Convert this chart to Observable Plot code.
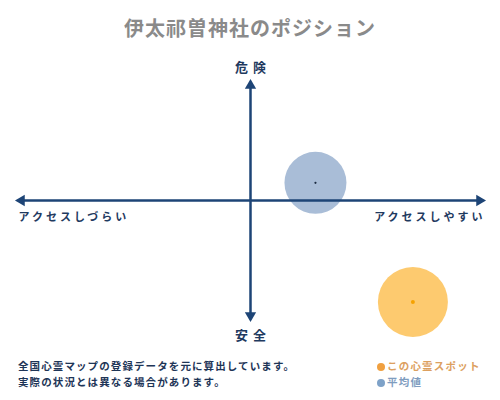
<!DOCTYPE html>
<html>
<head>
<meta charset="utf-8">
<script src="https://cdn.jsdelivr.net/npm/d3@7"></script>
<script src="https://cdn.jsdelivr.net/npm/@observablehq/plot@0.6"></script>
<style>
  html, body { margin: 0; padding: 0; background: #fff; }
  body { width: 500px; height: 400px; font-family: "Noto Sans CJK JP", sans-serif; position: relative; overflow: hidden; }
  #title { height: 50px; line-height: 56px; text-align: center; font-size: 20px; font-weight: bold; color: #8a8a8a; letter-spacing: 1px; }
  #chart svg { display: block; }
  g.side text { letter-spacing: 3px; }
  g.pole text { letter-spacing: 5px; }
  #caption { position: absolute; left: 18px; top: 358px; font-size: 10.5px; line-height: 16px; font-weight: bold; color: #1e3557; letter-spacing: 1.1px; }
  #legend { position: absolute; left: 377px; top: 358px; font-size: 10.5px; line-height: 16px; font-weight: bold; letter-spacing: 1.2px; }
  #legend .sw { display: inline-block; width: 8px; height: 8px; border-radius: 50%; margin-right: 2px; vertical-align: -0.5px; }
</style>
</head>
<body>
<div id="title"></div>
<div id="chart"></div>
<div id="caption"></div>
<div id="legend"></div>
<script>
const titleText = "伊太祁曽神社のポジション";
const categories = ["この心霊スポット", "平均値"];
const xValues = [7.0, 2.8];
const yValues = [-8.6, 1.5];
const topLabel = "危険";
const bottomLabel = "安全";
const leftLabel = "アクセスしづらい";
const rightLabel = "アクセスしやすい";
const captionLines = ["全国心霊マップの登録データを元に算出しています。", "実際の状況とは異なる場合があります。"];
const axisExtent = [-10, 10];

const points = categories.map((name, i) => ({name, x: xValues[i], y: yValues[i]}));
const spot = points.filter(d => d.name === categories[0]);
const avg = points.filter(d => d.name === categories[1]);

const navy = "#1d4476";
const textNavy = "#1f3a5f";

document.getElementById("title").textContent = titleText;

const plot = Plot.plot({
  width: 500,
  height: 300,
  marginLeft: 18,
  marginRight: 18,
  marginTop: 32,
  marginBottom: 32,
  x: {domain: axisExtent, axis: null},
  y: {domain: axisExtent, axis: null},
  style: {fontFamily: "'Noto Sans CJK JP', sans-serif", background: "white", overflow: "visible"},
  marks: [
    Plot.dot(avg, {x: "x", y: "y", r: 31, fill: "#a9bdd7", stroke: "none"}),
    Plot.dot(spot, {x: "x", y: "y", r: 35, fill: "#fdca6f", stroke: "none"}),
    Plot.ruleY([0], {x1: axisExtent[0], x2: axisExtent[1], stroke: navy, strokeWidth: 2.5}),
    Plot.ruleX([0], {y1: axisExtent[0], y2: axisExtent[1], stroke: navy, strokeWidth: 2.5}),
    Plot.dot([axisExtent[1]], {x: d => d, y: 0, symbol: "triangle", rotate: 90, r: 4.2, dx: -3, fill: navy, stroke: "none"}),
    Plot.dot([axisExtent[0]], {x: d => d, y: 0, symbol: "triangle", rotate: -90, r: 4.2, dx: 3, fill: navy, stroke: "none"}),
    Plot.dot([axisExtent[1]], {x: 0, y: d => d, symbol: "triangle", rotate: 0, r: 4.2, dy: 3, fill: navy, stroke: "none"}),
    Plot.dot([axisExtent[0]], {x: 0, y: d => d, symbol: "triangle", rotate: 180, r: 4.2, dy: -3, fill: navy, stroke: "none"}),
    Plot.dot(avg, {x: "x", y: "y", r: 1.1, fill: "#1a2a40", stroke: "none"}),
    Plot.dot(spot, {x: "x", y: "y", r: 2, fill: "#f5a200", stroke: "none"}),
    Plot.text([topLabel], {x: 0, y: axisExtent[1], dy: -15, dx: 2.5, text: d => d, fontSize: 13, fontWeight: "bold", fill: textNavy, className: "pole"}),
    Plot.text([bottomLabel], {x: 0, y: axisExtent[0], dy: 17, dx: 2.5, text: d => d, fontSize: 13, fontWeight: "bold", fill: textNavy, className: "pole"}),
    Plot.text([leftLabel], {x: axisExtent[0], y: 0, dy: 17, text: d => d, textAnchor: "start", fontSize: 11, fontWeight: "bold", fill: textNavy, className: "side"}),
    Plot.text([rightLabel], {x: axisExtent[1], y: 0, dy: 17, dx: 3, text: d => d, textAnchor: "end", fontSize: 11, fontWeight: "bold", fill: textNavy, className: "side"})
  ]
});
document.getElementById("chart").appendChild(plot);

document.getElementById("caption").innerHTML = captionLines.map(l => `<div>${l}</div>`).join("");
const legendColors = [{dot: "#f0a040", text: "#dca060"}, {dot: "#7ea2c8", text: "#7f9dbf"}];
document.getElementById("legend").innerHTML = categories.map((c, i) =>
  `<div style="color:${legendColors[i].text}"><span class="sw" style="background:${legendColors[i].dot}"></span>${c}</div>`).join("");
</script>
</body>
</html>
